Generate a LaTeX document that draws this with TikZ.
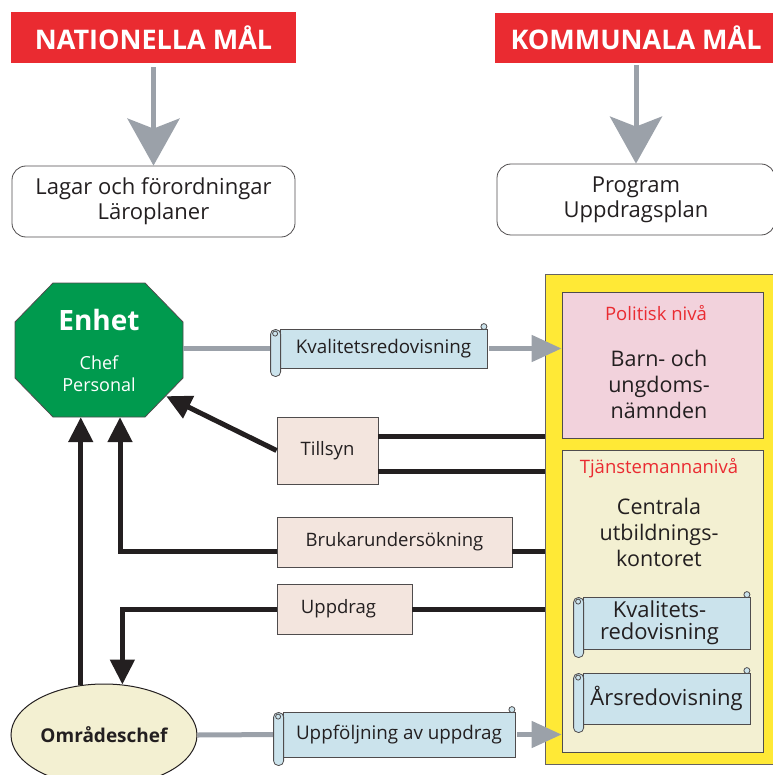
\documentclass[tikz,border=0pt]{standalone}
\usepackage{fontspec}
\setmainfont{Open Sans}
\usetikzlibrary{shapes.geometric,arrows.meta,calc,positioning}
\definecolor{mal_red}{RGB}{234, 43, 49}
\definecolor{pil_gray}{RGB}{155, 161, 169}
\definecolor{enhet_green}{RGB}{0, 154, 78}
\definecolor{ram_yellow}{RGB}{255, 233, 54}
\definecolor{pol_pink}{RGB}{242, 210, 220}
\definecolor{tj_cream}{RGB}{243, 240, 210}
\definecolor{rulle_blue}{RGB}{203, 227, 236}
\definecolor{lapp_beige}{RGB}{243, 229, 222}
\definecolor{txt_black}{RGB}{35, 31, 32}
\tikzstyle{malbox}=[fill=mal_red,text=white,inner sep=0pt,
  font=\bfseries\fontsize{27}{30}\selectfont]
\tikzstyle{dokbox}=[draw=txt_black!80,fill=white,rounded corners=14pt,
  line width=0.8pt,align=center,inner sep=0pt,minimum height=71pt,
  font=\fontsize{22}{25}\selectfont]
\tikzstyle{lapp}=[draw=txt_black!80,fill=lapp_beige,line width=0.8pt,
  inner sep=0pt,font=\fontsize{18.5}{21}\selectfont]
\tikzstyle{rulle}=[draw=txt_black!80,fill=rulle_blue,line width=0.8pt,
  inner sep=0pt,align=center]
\tikzstyle{nivabox}=[draw=txt_black!80,line width=0.8pt,inner sep=0pt,
  minimum width=201pt]
\tikzstyle{rodtxt}=[text=mal_red,font=\fontsize{18.5}{21}\selectfont]
\tikzstyle{storttxt}=[align=center,font=\fontsize{21.5}{26}\selectfont]
\tikzstyle{graypil}=[draw=pil_gray,line width=5pt]
\tikzstyle{blkpil}=[draw=txt_black,line width=5pt]
\tikzstyle{none}=[]
% rolled ends of a scroll node
\newcommand{\rulleend}[1]{%
  \draw[rulle,rounded corners=4.5pt] ($(#1.north west)+(-9,1)$)
    rectangle ($(#1.south west)+(1,8)$);
  \draw[rulle] ($(#1.north west)+(-4.5,5)$) circle (2.5pt);
  \draw[rulle] ($(#1.north east)+(-3.5,-2)$) circle (3pt);
}

\begin{document}
\begin{tikzpicture}[x=1pt, y=-1pt, color=txt_black]
  \useasboundingbox (0, 0) rectangle (772, 775);
  % goals
  \node [style=malbox, minimum width=285pt, minimum height=51pt] (nat) at (153.5, 37.5) {NATIONELLA MÅL};
  \node [style=malbox, minimum width=282pt, minimum height=50pt] (kom) at (636, 38) {KOMMUNALA MÅL};
  \node [style=dokbox, minimum width=283pt] (lagar) at (153.5, 201.5) {Lagar och förordningar\\Läroplaner};
  \node [style=dokbox, minimum width=278pt] (prog) at (636, 199.5) {Program\\Uppdragsplan};
  \draw [style=graypil, -{Stealth[length=47pt,width=52pt,inset=10pt]}, shorten <=4pt] (nat.south) -- (lagar.north);
  \draw [style=graypil, -{Stealth[length=47pt,width=52pt,inset=10pt]}, shorten <=2pt] (kom.south) -- (prog.north);
  % yellow frame
  \node [draw=txt_black!70, fill=ram_yellow, line width=1pt, minimum width=233pt, minimum height=490pt] (ram) at (661.5, 519) {};
  \node [style=nivabox, fill=pol_pink, minimum height=146pt] (pol) at (662.5, 365) {};
  \node [style=nivabox, fill=tj_cream, minimum height=302pt] (tj) at (662.5, 601) {};
  \node [style=rodtxt] (politisk) at (656, 313) {Politisk nivå};
  \node [style=storttxt] (namnd) at (659, 384) {Barn- och\\ungdoms-\\nämnden};
  \node [style=rodtxt] (tjnamn) at (659, 468) {Tjänstemannanivå};
  \node [style=storttxt] (kontor) at (659, 532) {Centrala\\utbildnings-\\kontoret};
  \node [style=rulle, minimum width=167pt, minimum height=52pt, font=\fontsize{22}{22}\selectfont] (kval2) at (666.5, 623) {Kvalitets-\hspace*{14pt}\\redovisning\hspace*{14pt}};
  \node [style=rulle, minimum width=167pt, minimum height=51pt, font=\fontsize{22}{22}\selectfont] (ars) at (666.5, 698.5) {Årsredovisning};
  % left side
  \fill [enhet_green, draw=txt_black!80, line width=0.8pt] (15, 322) -- (53, 283) -- (145, 283) -- (183, 322)
    -- (183, 378) -- (145, 417) -- (53, 417) -- (15, 378) -- cycle;
  \node [minimum width=168pt, minimum height=134pt, inner sep=0pt, text=white, align=center,
    font=\fontsize{18}{22}\selectfont] (enhet) at (99, 350)
    {{\bfseries\fontsize{28}{30}\selectfont Enhet}\\[17pt]Chef\\Personal};
  \coordinate (enhetkant) at ($(enhet.south east)+(-17,-21)$);
  \node [ellipse, fill=tj_cream, draw=txt_black, line width=1pt, minimum width=186pt, minimum height=102pt,
    inner sep=0pt, font=\bfseries\fontsize{19}{21}\selectfont] (omr) at (104, 735) {Områdeschef};
  \node [style=rulle, minimum width=207pt, minimum height=39pt, font=\fontsize{18.8}{21}\selectfont] (kvalred) at (383.5, 348.5) {Kvalitetsredovisning};
  \node [style=rulle, minimum width=232pt, minimum height=45pt, font=\fontsize{18.8}{21}\selectfont] (uppf) at (399, 734.5) {Uppföljning av uppdrag};
  \node [style=lapp, minimum width=101pt, minimum height=67pt] (tillsyn) at (327.5, 450.5) {Tillsyn};
  \node [style=lapp, minimum width=235pt, minimum height=50pt] (bruk) at (394.5, 542) {Brukarundersökning};
  \node [style=lapp, minimum width=135pt, minimum height=50pt] (uppdrag) at (344.5, 609) {Uppdrag\hspace*{12pt}};
  \coordinate (t1) at ($(tillsyn.north east)+(0,20)$);
  \coordinate (t2) at ($(tillsyn.south east)+(0,-13)$);
  \coordinate (b1) at ($(bruk.east)+(0,9)$);
  \coordinate (b2) at ($(bruk.west)+(0,9)$);
  % grey reports
  \draw [style=graypil] (kvalred.west -| enhet.east) -- (kvalred.west);
  \draw [style=graypil, -{Triangle[length=30pt,width=26pt]}, shorten <=2pt] (kvalred.east) -- (kvalred.east -| pol.west);
  \draw [style=graypil] (omr.east) -- (uppf.west);
  \draw [style=graypil, -{Triangle[length=30pt,width=26pt]}, shorten <=2pt] (uppf.east) -- (uppf.east -| tj.west);
  % black lines
  \draw [style=blkpil] (t1) -- (t1 -| ram.west);
  \draw [style=blkpil] (t2) -- (t2 -| ram.west);
  \draw [style=blkpil, -{Triangle[length=25pt,width=24pt]}] (tillsyn.west) -- (enhetkant);
  \draw [style=blkpil] (b1) -- (b1 -| ram.west);
  \draw [style=blkpil, -{Triangle[length=25pt,width=24pt]}] (b2) -| ($(enhet.south)+(21,0)$);
  \draw [style=blkpil] (uppdrag.east) -- (uppdrag.east -| ram.west);
  \draw [style=blkpil, -{Triangle[length=25pt,width=24pt]}] (uppdrag.west) -| (omr.70);
  \draw [style=blkpil, -{Triangle[length=25pt,width=24pt]}] (omr.115) -- (omr.115 |- enhet.south);
  \rulleend{kvalred}
  \rulleend{uppf}
  \rulleend{kval2}
  \rulleend{ars}
\end{tikzpicture}
\end{document}
